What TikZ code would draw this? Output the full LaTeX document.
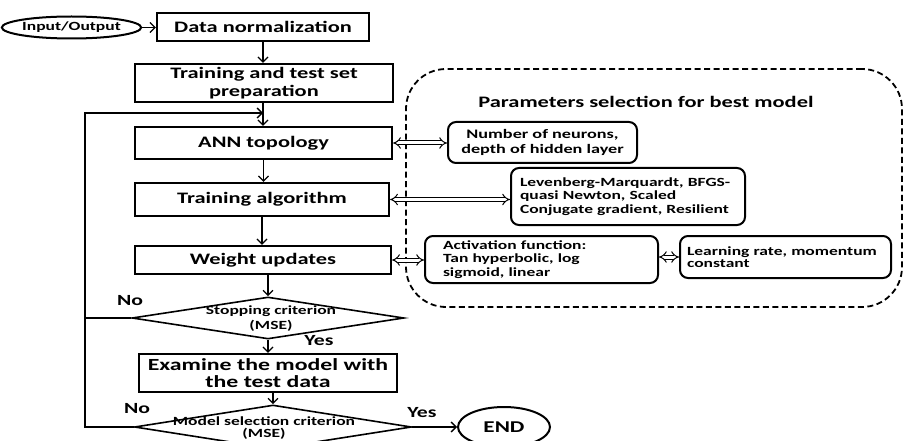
\documentclass[tikz,border=0pt]{standalone}
\usepackage{fontspec}
\setmainfont{Carlito}[FakeStretch=1.4]
\usetikzlibrary{shapes.geometric,arrows.meta}
\newcommand\myfs[2]{\fontsize{#1}{#2}\selectfont\bfseries}
\tikzset{
  box/.style={draw, line width=2.2pt, inner sep=0pt, align=center, font=\myfs{16}{18}},
  rbox/.style={draw, line width=2pt, rounded corners=8pt, inner ysep=0pt, align=left, font=\myfs{12.5}{13.8}},
  arr/.style={line width=1.3pt, -{Straight Barb[length=5pt,width=10pt]}},
  plain/.style={line width=1.3pt},
  dbl/.style={double, double distance=3pt, line width=1pt, {Implies}-{Implies}},
  dia/.style={draw, shape=diamond, line width=1.6pt, inner sep=0pt},
  lbl/.style={font=\myfs{15.5}{17}},
  ell/.style={draw, ellipse, line width=2pt, inner sep=0pt},
}
\begin{document}
\begin{tikzpicture}[x=1pt,y=-1pt]
\useasboundingbox (0,0) rectangle (905,441);
\clip (0,0) rectangle (905,441);
\fill[white] (0,0) rectangle (905,441);

% parameter group
\node[draw, dash pattern=on 6pt off 3.5pt, line width=1.8pt, rounded corners=40pt,
      minimum width=496pt, minimum height=238pt] (params) at (654,188) {};
\node[font=\myfs{16}{18}] (ptitle) at (646,102) {Parameters selection for best model};

% main flow
\node[ell, minimum width=117pt, minimum height=22pt, font=\myfs{12.5}{14}] (io) at (71.5,27.5) {Input/Output};
\node[box, minimum width=212pt, minimum height=28pt] (data) at (263,27) {Data normalization};
\node[box, minimum width=258pt, minimum height=38pt] (prep) at (264,83) {Training and test set\\preparation};
\node[box, minimum width=257pt, minimum height=32pt] (ann) at (263.5,143) {ANN topology};
\node[box, minimum width=254pt, minimum height=33pt] (talg) at (262,199.5) {Training algorithm};
\node[box, minimum width=256pt, minimum height=28pt] (wu) at (263,260) {Weight updates};
\node[dia, minimum width=272pt, minimum height=42pt] (stop) at (268,318) {};
\node[font=\myfs{12.5}{15}, align=center] (stoptxt) at (271,319) {Stopping criterion\\(MSE)};
\node[box, minimum width=258pt, minimum height=38pt, font=\myfs{17}{17.5}] (exam) at (268,373) {Examine the model with\\the test data};
\node[dia, minimum width=277pt, minimum height=44pt] (model) at (273,427) {};
\node[font=\myfs{12.5}{12.5}, align=center] (modeltxt) at (264,428) {Model selection criterion\\(MSE)};
\node[ell, minimum width=92pt, minimum height=40pt, font=\myfs{16.5}{18}] (end) at (504,427) {END};

% labels
\node[lbl] (no1) at (130,301) {No};
\node[lbl] (yes1) at (319,341) {Yes};
\node[lbl] (no2) at (137,409) {No};
\node[lbl] (yes2) at (422,413) {Yes};

% right boxes
\node[rbox, align=center, minimum width=189pt, minimum height=41pt, inner xsep=0pt, font=\myfs{13}{15}] (nn) at (542.5,142.5) {Number of neurons,\\depth of hidden layer};
\node[rbox, text width=216pt, inner xsep=9pt, minimum height=57pt] (lev) at (628,196.5) {Levenberg-Marquardt, BFGS-\\quasi Newton, Scaled\\Conjugate gradient, Resilient};
\node[rbox, text width=197pt, inner xsep=18pt, minimum height=47pt] (act) at (541.5,259.5) {Activation function:\\Tan hyperbolic, log\\sigmoid, linear};
\node[rbox, text width=197pt, inner xsep=7pt, minimum height=42pt, font=\myfs{12.5}{12.5}] (lr) at (785.5,257) {Learning rate, momentum\\constant};

% coordinates for feedback loop
\coordinate (fbtop) at (85,113);
\coordinate (join) at (263,113);

% main arrows
\draw[arr] (io.east) -- (data.west |- io.east);
\draw[arr] (data.south) -- (data.south |- prep.north);
\draw[arr] (prep.south -| join) -- (ann.north -| join);
\draw[arr] (ann.south) -- (ann.south |- talg.north);
\draw[arr] (talg.south) -- (talg.south |- wu.north);
\draw[arr] (stop.north |- wu.south) -- (stop.north);
\draw[arr] (stop.south) -- (stop.south |- exam.north);
\draw[arr] (model.north |- exam.south) -- (model.north);
\draw[arr] (model.east) -- (end.west);

% feedback loops
\draw[arr] (model.west) -| (fbtop) -- (join);
\draw[plain] (stop.west) -- (stop.west -| fbtop);

% double arrows
\draw[dbl] (ann.east) -- (ann.east -| nn.west);
\draw[dbl] (talg.east) -- (talg.east -| lev.west);
\draw[dbl] (wu.east) -- (wu.east -| act.west);
\draw[dbl] (act.east |- lr.west) -- (lr.west);
\end{tikzpicture}
\end{document}
